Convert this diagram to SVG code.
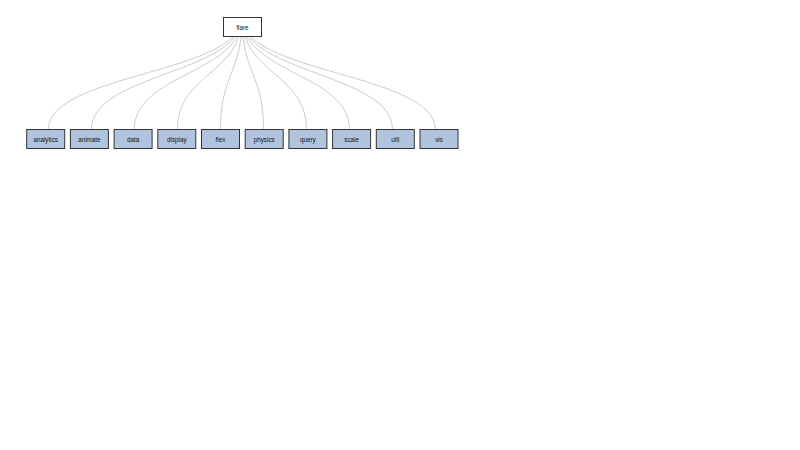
<svg xmlns="http://www.w3.org/2000/svg" width="800" height="450" viewBox="0 0 800 450">
<style>
.link{fill:none;stroke:#cccccc;stroke-width:1}
.box{stroke:#333333;stroke-width:1}
.root rect{fill:#ffffff}
.child rect{fill:#b0c4de}
text{font-family:"Liberation Sans",Arial,sans-serif;font-size:6.3px;fill:#111111;text-anchor:middle;dominant-baseline:central}
</style>
<rect width="800" height="450" fill="#ffffff"/>
<g id="links">
<path class="link" d="M242,17.5C242,73.5 48.3,73.5 48.3,129.5"/>
<path class="link" d="M242,17.5C242,73.5 91.3,73.5 91.3,129.5"/>
<path class="link" d="M242,17.5C242,73.5 134.3,73.5 134.3,129.5"/>
<path class="link" d="M242,17.5C242,73.5 177.3,73.5 177.3,129.5"/>
<path class="link" d="M242,17.5C242,73.5 220.5,73.5 220.5,129.5"/>
<path class="link" d="M242,17.5C242,73.5 263.5,73.5 263.5,129.5"/>
<path class="link" d="M242,17.5C242,73.5 306.5,73.5 306.5,129.5"/>
<path class="link" d="M242,17.5C242,73.5 349.5,73.5 349.5,129.5"/>
<path class="link" d="M242,17.5C242,73.5 392.5,73.5 392.5,129.5"/>
<path class="link" d="M242,17.5C242,73.5 435.3,73.5 435.3,129.5"/>
</g>
<g id="flare" class="root"><rect class="box" x="223.5" y="17.5" width="38" height="19"/><text x="242.5" y="27">flare</text></g>
<g id="analytics" class="child"><rect class="box" x="26.7" y="129.5" width="38" height="19"/><text x="45.7" y="139">analytics</text></g>
<g id="animate" class="child"><rect class="box" x="70.4" y="129.5" width="38" height="19"/><text x="89.4" y="139">animate</text></g>
<g id="data" class="child"><rect class="box" x="114.1" y="129.5" width="38" height="19"/><text x="133.1" y="139">data</text></g>
<g id="display" class="child"><rect class="box" x="157.8" y="129.5" width="38" height="19"/><text x="176.8" y="139">display</text></g>
<g id="flex" class="child"><rect class="box" x="201.5" y="129.5" width="38" height="19"/><text x="220.5" y="139">flex</text></g>
<g id="physics" class="child"><rect class="box" x="245.2" y="129.5" width="38" height="19"/><text x="264.2" y="139">physics</text></g>
<g id="query" class="child"><rect class="box" x="288.9" y="129.5" width="38" height="19"/><text x="307.9" y="139">query</text></g>
<g id="scale" class="child"><rect class="box" x="332.6" y="129.5" width="38" height="19"/><text x="351.6" y="139">scale</text></g>
<g id="util" class="child"><rect class="box" x="376.3" y="129.5" width="38" height="19"/><text x="395.3" y="139">util</text></g>
<g id="vis" class="child"><rect class="box" x="420" y="129.5" width="38" height="19"/><text x="439" y="139">vis</text></g>
</svg>
